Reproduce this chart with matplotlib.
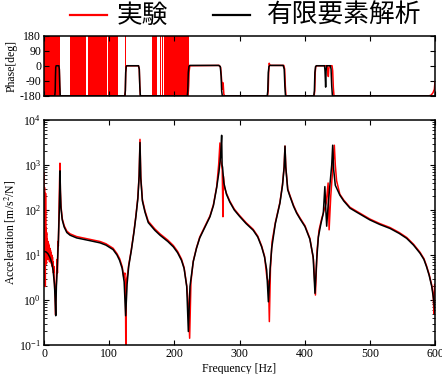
import matplotlib
matplotlib.use("Agg")
import matplotlib.pyplot as plt
import numpy as np
from matplotlib.lines import Line2D
from matplotlib.ticker import LogLocator, FixedLocator

# ---------------- data ----------------
# FEM acceleration magnitude: frequency [Hz] and log10(|A/F|)
fem_freq = [0, 3, 6, 9, 12, 14, 16, 17, 18, 19, 20.5, 22, 23.5, 24.2, 24.6, 25.2, 26, 28, 31,
            35, 40, 50, 60, 70, 86, 95, 106, 112, 116, 120, 123, 125.3, 127.5, 130, 134, 138,
            141, 144, 146, 147.3, 148.5, 151, 155, 160, 170, 178, 190, 198.5, 205, 211, 215,
            219, 221.5, 224, 229, 234, 239, 247, 254.7, 260, 265, 268.5, 271, 272.6, 273.3,
            274, 276, 280, 285, 292, 300, 310, 321, 328, 334, 338.5, 341.7, 344.3, 347, 349.4,
            355, 362, 366, 368.5, 369.8, 371, 374, 377.5, 383, 387.7, 393, 400.5, 408, 413,
            415.8, 418.5, 421, 425, 428.6, 431, 432.5, 433.8, 436, 439, 441.5, 443, 444.5, 447,
            454, 460, 469.6, 480, 500, 515, 531, 545, 556.5, 567, 577, 583, 587, 591, 595, 598,
            600]
fem_logmag = [1.08, 1.07, 1.03, 0.95, 0.82, 0.65, 0.35, 0.05, -0.35, 0.3, 0.75, 1.3, 2.0, 2.5,
              2.87, 2.4, 2.05, 1.78, 1.62, 1.5, 1.44, 1.38, 1.35, 1.32, 1.27, 1.22, 1.12, 1.0,
              0.88, 0.7, 0.4, -0.35, 0.35, 0.75, 1.1, 1.5, 1.85, 2.25, 2.75, 3.5, 2.7, 2.2, 1.95,
              1.72, 1.55, 1.44, 1.3, 1.18, 1.05, 0.88, 0.7, 0.3, -0.7, 0.3, 0.85, 1.15, 1.38,
              1.62, 1.85, 2.1, 2.5, 2.85, 3.2, 3.66, 3.0, 2.95, 2.6, 2.35, 2.18, 2.0, 1.86, 1.7,
              1.55, 1.4, 1.18, 0.95, 0.67, -0.04, 0.7, 1.15, 1.7, 2.15, 2.55, 2.95, 3.42, 2.95,
              2.45, 2.3, 2.08, 1.93, 1.8, 1.63, 1.35, 0.96, 0.15, 0.9, 1.4, 1.7, 1.93, 2.52, 2.0,
              1.64, 2.1, 2.6, 3.0, 3.44, 2.9, 2.55, 2.33, 2.2, 2.04, 1.95, 1.78, 1.68, 1.59,
              1.48, 1.37, 1.22, 1.04, 0.9, 0.74, 0.55, 0.3, 0.0, -0.3]

# measured acceleration magnitude
exp_freq = [0.0, 0.4, 0.8, 1.2, 1.6, 2.0, 2.4, 2.8, 3.2, 3.6, 4.0, 4.5, 5.0, 5.5, 6.0, 6.5, 7.0,
            7.5, 8.0, 8.5, 9.0, 9.5, 10.0, 10.5, 11.0, 11.5, 12.0, 12.5, 13.0, 13.5, 14.0, 14.5,
            15.0, 15.5, 16.0, 17.0, 17.8, 18.5, 19.2, 20.0, 20.6, 21.3, 22.0, 23.0, 23.8, 24.5,
            25.1, 26, 28, 31, 35, 40, 50, 60, 70, 86, 95, 106, 112, 116, 120, 122.5, 124,
            125.0, 125.6, 126.5, 128, 130, 134, 138, 141, 144, 146, 147.3, 148.5, 151, 155, 160,
            170, 178, 190, 198.5, 205, 211, 215, 219, 221.5, 223.5, 225.5, 229, 234, 239, 247,
            254.7, 260, 265, 268, 270, 271, 272.5, 273.5, 274.6, 275.2, 277, 280, 285, 292, 300,
            310, 321, 328, 334, 338.5, 342, 344.5, 345.8, 347.5, 350, 355, 362, 366, 368.5,
            369.8, 371, 374, 377.5, 383, 387.7, 393, 400.5, 408, 413.5, 416.5, 419, 422, 426,
            430, 433, 436, 437.5, 440, 443, 445.5, 447, 449, 454, 460, 469.6, 480, 500, 515,
            531, 545, 556.5, 567, 577, 583, 587, 591, 595, 597, 598.5, 599.5, 600]
exp_logmag = [2.82, 0.4, 2.5, 0.9, 1.9, 0.3, 2.37, 1.0, 1.6, 0.8, 1.5, 0.9, 1.35, 0.95, 1.3,
              0.9, 1.25, 0.95, 1.2, 0.85, 1.15, 0.9, 1.1, 0.85, 1.05, 0.8, 1.0, 0.75, 0.95, 0.7,
              0.85, 0.6, 0.75, 0.5, 0.4, 0.1, -0.33, 0.2, 0.55, 0.9, 0.6, 1.3, 1.2, 2.0, 2.6,
              3.04, 2.45, 2.1, 1.81, 1.65, 1.53, 1.47, 1.41, 1.38, 1.35, 1.3, 1.25, 1.15, 1.03,
              0.92, 0.74, 0.5, 0.6, 0.2, -1.2, 0.45, 0.55, 0.78, 1.12, 1.52, 1.87, 2.28, 2.78,
              3.57, 2.75, 2.23, 1.98, 1.75, 1.58, 1.47, 1.33, 1.21, 1.08, 0.91, 0.72, 0.32, -0.1,
              -0.85, 0.4, 0.86, 1.16, 1.4, 1.64, 1.87, 2.12, 2.52, 3.0, 3.49, 3.1, 3.0, 2.9, 1.85,
              2.75, 2.5, 2.37, 2.2, 2.02, 1.88, 1.72, 1.57, 1.42, 1.2, 0.97, 0.5, 0.4, -0.48,
              0.7, 1.3, 1.72, 2.17, 2.57, 2.97, 3.42, 2.97, 2.47, 2.32, 2.1, 1.95, 1.82, 1.65,
              1.37, 0.9, 0.11, 1.1, 1.55, 1.8, 2.0, 2.15, 2.6, 1.56, 2.3, 2.9, 3.44, 3.0, 2.65,
              2.35, 2.22, 2.06, 1.97, 1.8, 1.7, 1.61, 1.5, 1.39, 1.24, 1.06, 0.92, 0.76, 0.57,
              0.33, 0.15, -0.3, 0.35, -0.1]

# FEM phase [deg]
fem_phase_freq = [0, 16.5, 17.2, 17.6, 18.0, 18.6, 22.8, 23.5, 24.2, 24.8, 25.5, 124, 124.8,
                  125.4, 126.2, 127, 145, 146.2, 147, 147.8, 148.6, 219.8, 220.6, 221.4, 222.4,
                  223.5, 268, 270.5, 271.8, 272.6, 273.6, 274.5, 342.5, 343.4, 344.2, 345.2,
                  346.5, 367, 368.6, 369.6, 370.5, 371.5, 414, 414.9, 415.7, 416.7, 418, 430.5,
                  431.2, 432.2, 432.9, 433.7, 439.5, 440.5, 441.5, 442.5, 443.5, 600]
fem_phase = [-180, -180, -150, -60, -10, 0, 0, -20, -120, -175, -180, -180, -150, -40, -5, 0,
             0, -20, -120, -175, -180, -180, -150, -40, -5, 2, 2, -5, -60, -150, -178, -180,
             -180, -150, -40, -5, 2, 2, -20, -120, -175, -180, -180, -150, -40, -5, 0, 0, -30,
             -127, -30, 0, 0, -20, -120, -175, -180, -180]

# measured phase [deg]
exp_phase_freq = [0, 16.5, 17.2, 17.6, 18.0, 18.6, 22.8, 23.5, 24.2, 24.8, 25.5, 124, 124.8,
                  125.4, 126.2, 127, 145, 146.2, 147, 147.8, 148.6, 221, 222, 222.8, 223.8, 269,
                  271, 272.5, 273.5, 274.3, 275, 276, 277.5, 343, 344, 344.8, 345.6, 346.4, 348,
                  368, 369.3, 370.3, 371.2, 372, 414.5, 415.4, 416.2, 417, 418.5, 434.5, 435.5,
                  436.3, 437, 438, 442, 443, 444, 445, 446, 590, 594, 597, 599, 600]
exp_phase = [-180, -180, -150, -60, -10, 0, 0, -20, -120, -175, -180, -180, -150, -40, -5, 0,
             0, -20, -120, -175, -180, -180, -120, -30, 0, 2, -10, -80, -140, -100, -110, -170,
             -180, -180, -150, -40, 15, 5, 2, 2, -20, -120, -175, -180, -180, -150, -40, -5, 0,
             0, -30, -64, -20, 0, 0, -30, -130, -178, -180, -180, -175, -160, -140, -95]

# frequency bands where the measured phase wraps between -180 and +180
wrap_start = [0.0, 31.5, 40.0, 47.5, 67.5, 80.5, 97.5, 124.5, 165.0, 177.5, 181.0, 184.5, 203.0]
wrap_end   = [24.5, 32.5, 47.0, 64.0, 80.0, 97.0, 113.0, 125.5, 173.0, 179.5, 182.5, 202.5, 222.5]

legend_labels = ["実験", "有限要素解析"]
phase_ticks = [-180, -90, 0, 90, 180]
freq_ticks = [0, 100, 200, 300, 400, 500, 600]

# ---------------- style ----------------
plt.rcParams['font.family'] = ['Liberation Serif', 'DejaVu Serif']
plt.rcParams['mathtext.fontset'] = 'stix'
plt.rcParams['axes.unicode_minus'] = False
plt.rcParams['axes.linewidth'] = 1.1
plt.rcParams['xtick.direction'] = 'in'
plt.rcParams['ytick.direction'] = 'in'

RED = '#ff0000'
BLACK = '#000000'
W, H = 442, 374

fig = plt.figure(figsize=(W / 100, H / 100), dpi=100)
ax_p = fig.add_axes([44 / W, 1 - 96 / H, 391 / W, 60.5 / H])
ax_m = fig.add_axes([44 / W, 1 - 345 / H, 391 / W, 225 / H])

# ---- phase ----
for s, e in zip(wrap_start, wrap_end):
    ax_p.fill_between([s, e], [-180, -180], [180, 180], color=RED, linewidth=0)
ax_p.plot(exp_phase_freq, exp_phase, color=RED, lw=1.1)
ax_p.plot(fem_phase_freq, fem_phase, color=BLACK, lw=1.1)
ax_p.set_xlim(0, 600)
ax_p.set_ylim(-180, 180)
ax_p.yaxis.set_major_locator(FixedLocator(phase_ticks))
ax_p.xaxis.set_major_locator(FixedLocator(freq_ticks))
ax_p.tick_params(axis='both', which='both', top=True, right=True, labelsize=8.5,
                 length=3.5, width=0.8, pad=2)
ax_p.tick_params(axis='x', labelbottom=False)
ax_p.set_ylabel('Phase[deg]', fontsize=8.5, labelpad=1)

# ---- magnitude ----
ax_m.plot(exp_freq, np.power(10.0, exp_logmag), color=RED, lw=1.1)
ax_m.plot(fem_freq, np.power(10.0, fem_logmag), color=BLACK, lw=1.1)
ax_m.set_yscale('log')
ax_m.set_xlim(0, 600)
ax_m.set_ylim(1e-1, 1e4)
ax_m.xaxis.set_major_locator(FixedLocator(freq_ticks))
ax_m.yaxis.set_major_locator(LogLocator(base=10, numticks=10))
ax_m.yaxis.set_minor_locator(LogLocator(base=10, subs=np.arange(2, 10), numticks=10))
ax_m.tick_params(axis='both', which='major', top=True, right=True, labelsize=8.5,
                 length=3.5, width=0.8, pad=2)
ax_m.tick_params(axis='both', which='minor', top=True, right=True, length=2, width=0.6)
ax_m.set_xlabel('Frequency [Hz]', fontsize=8.5, labelpad=2)
ax_m.set_ylabel('Acceleration [m/s$^2$/N]', fontsize=8.5, labelpad=1)

# ---- legend (line sample + label per series) ----
leg_y = 1 - 15 / H
leg_items = [(RED, 70, 107, 117), (BLACK, 213, 250, 267)]
for (col, x0, x1, xt), lab in zip(leg_items, legend_labels):
    fig.add_artist(Line2D([x0 / W, x1 / W], [leg_y, leg_y], color=col, lw=1.6,
                          transform=fig.transFigure))
    fig.text(xt / W, leg_y - 1 / H, lab, ha='left', va='center', fontsize=18.5,
             family=['Noto Sans CJK JP', 'DejaVu Sans'])

fig.savefig('out.png', dpi=100)
